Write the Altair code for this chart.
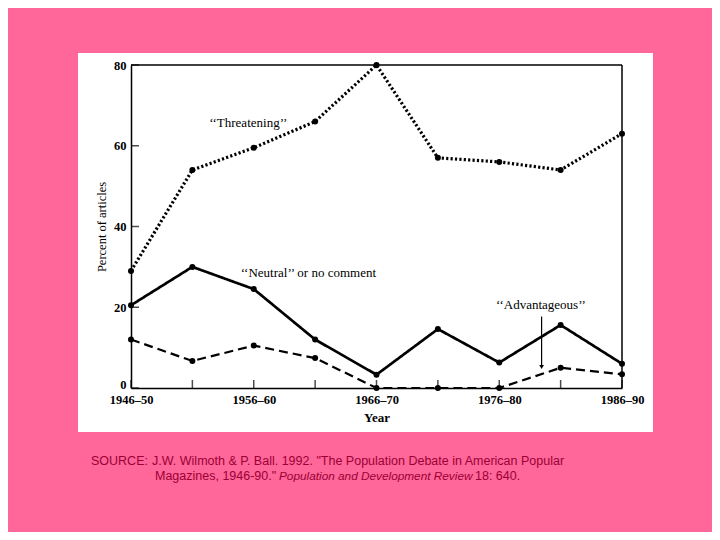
import json
import altair as alt
import pandas as pd

# ---- data ----
periods = ["1946–50", "1951–55", "1956–60", "1961–65", "1966–70",
           "1971–75", "1976–80", "1981–85", "1986–90"]
labeled_periods = ["1946–50", "1956–60", "1966–70", "1976–80", "1986–90"]
threatening = [29, 54, 59.5, 66, 80, 57, 56, 54, 63]
neutral = [20.5, 30, 24.5, 12, 3.3, 14.6, 6.3, 15.6, 6]
advantageous = [12, 6.7, 10.5, 7.4, 0, 0, 0, 5, 3.4]
series_names = ["Threatening", "Neutral", "Advantageous"]
y_ticks = [0, 20, 40, 60, 80]

ann_text = ["‘‘Threatening’’", "‘‘Neutral’’ or no comment", "‘‘Advantageous’’"]
ann_x = [1.91, 2.89, 6.68]
ann_y = [65.7, 28.5, 20.5]
arrow_x = [6.69]
arrow_from = [17.7]
arrow_to = [5.2]

source_line1 = ["SOURCE:", "J.W. Wilmoth & P. Ball. 1992. \"The Population Debate in American Popular"]
source_line2 = ["Magazines, 1946-90.\"", "Population and Development Review", "18: 640."]

# ---- tables ----
rows = []
for name, vals in zip(series_names, [threatening, neutral, advantageous]):
    for i, (p, v) in enumerate(zip(periods, vals)):
        rows.append({"i": i, "period": p, "series": name, "value": v})
df = pd.DataFrame(rows)
ann_df = pd.DataFrame({"x": ann_x, "y": ann_y, "text": ann_text})
arrow_df = pd.DataFrame({"x": arrow_x, "y": arrow_from, "y2": arrow_to})
xticks_df = pd.DataFrame({"i": list(range(len(periods)))})
yticks_df = pd.DataFrame({"v": y_ticks})
one = pd.DataFrame({"a": [0]})

SERIF = "Liberation Serif"
SANS = "Liberation Sans"
SRC_COLOR = "#9B0035"

pj = json.dumps(periods, ensure_ascii=False)
lj = json.dumps(labeled_periods, ensure_ascii=False)
label_expr = f"indexof({lj}, {pj}[datum.value]) >= 0 ? {pj}[datum.value] : ''"

x_scale = alt.Scale(domain=[0, len(periods) - 1], nice=False, zero=False)
y_scale = alt.Scale(domain=[0, 80], nice=False)

x_enc = alt.X("i:Q", scale=x_scale,
              axis=alt.Axis(values=list(range(len(periods))), labelExpr=label_expr,
                            title="Year", ticks=False, grid=False, domain=True,
                            domainColor="black", domainWidth=1.5, zindex=1,
                            labelFont=SERIF, labelFontSize=12.5, labelFontWeight="bold",
                            labelColor="black", labelPadding=5, labelFlush=False,
                            titleFont=SERIF, titleFontSize=13, titleFontWeight="bold",
                            titleColor="black", titlePadding=6))
y_enc = alt.Y("value:Q", scale=y_scale,
              axis=alt.Axis(values=y_ticks, title="Percent of articles", ticks=False,
                            grid=False, domain=True, domainColor="black", domainWidth=1.5,
                            zindex=1, labelFont=SERIF, labelFontSize=12.5,
                            labelFontWeight="bold", labelColor="black", labelPadding=5,
                            labelBaseline={"condition": {"test": "datum.value == 0",
                                                         "value": "alphabetic"},
                                           "value": "middle"},
                            titleFont=SERIF, titleFontSize=12.5, titleFontWeight="normal",
                            titleColor="black", titlePadding=5))

# white panel behind the figure
panel = alt.Chart(one).mark_rect(color="white").encode(
    x=alt.value(-53), x2=alt.value(522), y=alt.value(-12), y2=alt.value(367))

lines = alt.Chart(df).mark_line(color="black").encode(
    x=x_enc, y=y_enc,
    detail="series:N",
    strokeDash=alt.StrokeDash("series:N", legend=None,
                              scale=alt.Scale(domain=series_names,
                                              range=[[2.2, 2.2], [1, 0], [9, 5]])),
    strokeWidth=alt.StrokeWidth("series:N", legend=None,
                                scale=alt.Scale(domain=series_names, range=[3.2, 2.2, 2.4])),
)
points = alt.Chart(df).mark_circle(color="black", opacity=1, size=36).encode(
    x="i:Q", y="value:Q")

frame_top = alt.Chart(one).mark_rule(color="black", strokeWidth=1.5).encode(
    x=alt.datum(0), x2=alt.datum(len(periods) - 1), y=alt.datum(80))
frame_right = alt.Chart(one).mark_rule(color="black", strokeWidth=1.5).encode(
    x=alt.datum(len(periods) - 1), y=alt.datum(0), y2=alt.datum(80))

xticks = alt.Chart(xticks_df).mark_tick(orient="vertical", size=8, thickness=1.5,
                                        yOffset=-4, color="black").encode(
    x="i:Q", y=alt.datum(0))
yticks = alt.Chart(yticks_df).mark_tick(orient="horizontal", size=8, thickness=1.5,
                                        xOffset=4, color="black").encode(
    x=alt.datum(0), y="v:Q")

ann = alt.Chart(ann_df).mark_text(font=SERIF, fontSize=13, color="black",
                                  align="center", baseline="middle").encode(
    x="x:Q", y="y:Q", text="text:N")
arrow_line = alt.Chart(arrow_df).mark_rule(color="black", strokeWidth=1.2).encode(
    x="x:Q", y="y:Q", y2="y2:Q")
arrow_head = alt.Chart(arrow_df).mark_point(shape="triangle-down", filled=True,
                                            color="black", opacity=1, size=22).encode(
    x="x:Q", y="y2:Q")

def src(text, xpx, ypx, style="normal", size=12.5):
    return alt.Chart(pd.DataFrame({"t": [text]})).mark_text(
        font=SANS, fontSize=size, color=SRC_COLOR, align="left", baseline="middle",
        fontStyle=style).encode(x=alt.value(xpx), y=alt.value(ypx), text="t:N")

sources = [
    src(source_line1[0], -40, 396),
    src(source_line1[1], 21, 396),
    src(source_line2[0], 24, 411),
    src(source_line2[1], 148, 411, "italic", 11.8),
    src(source_line2[2], 344, 411),
]

chart = alt.layer(panel, lines, points, frame_top, frame_right, xticks, yticks,
                  ann, arrow_line, arrow_head, *sources).properties(
    width=491, height=323,
    padding={"left": 123, "top": 57, "right": 90, "bottom": 144},
    autosize=alt.AutoSizeParams(type="none"),
).configure(background="#FF6699").configure_view(stroke=None)

chart.save("out.html", embed_options={"renderer": "svg", "actions": False})
